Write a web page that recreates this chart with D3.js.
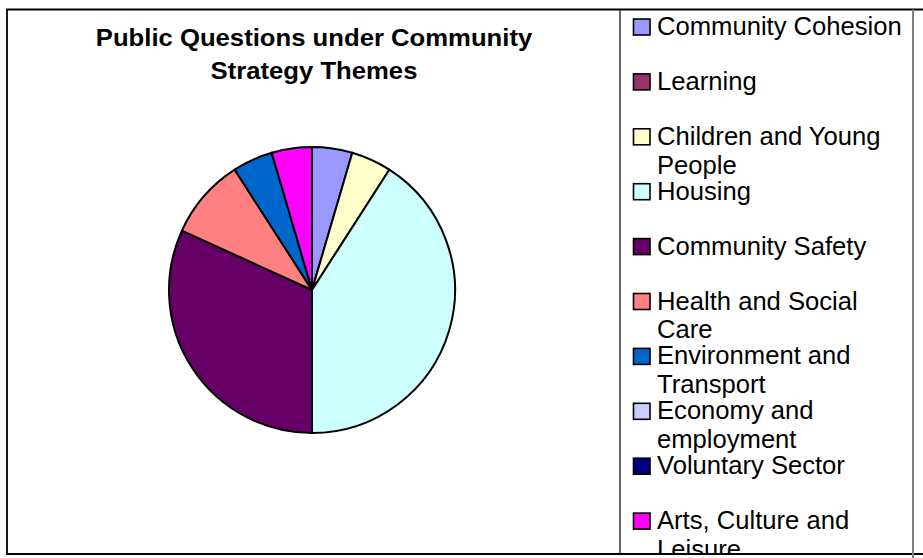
<!DOCTYPE html>
<html>
<head>
<meta charset="utf-8">
<script src="https://cdn.jsdelivr.net/npm/d3@7"></script>
<style>
  body { margin: 0; background: #fff; }
  svg { display: block; font-family: "Liberation Sans", Arial, sans-serif; }
</style>
</head>
<body>
<div id="chart"></div>
<script>
// Chart data
var themes = ["Community Cohesion", "Learning", "Children and Young People", "Housing",
    "Community Safety", "Health and Social Care", "Environment and Transport",
    "Economy and employment", "Voluntary Sector", "Arts, Culture and Leisure"];
var questions = [1, 0, 1, 9, 7, 2, 1, 0, 0, 1];
var themeColors = ["#9999FF", "#993366", "#FFFFCC", "#CCFFFF", "#660066",
    "#FF8080", "#0066CC", "#CCCCFF", "#000080", "#FF00FF"];
var titleLines = ["Public Questions under Community", "Strategy Themes"];

// Dimensions
var chart = {width: 923, height: 558};
var pieCenter = {x: 312, y: 290};
var radius = 143;
var legendBox = {left: 620, right: 913, top: 9.5, bottom: 554};

var color = d3.scaleOrdinal().domain(themes).range(themeColors);

var svg = d3.select("#chart")
    .append("svg")
    .attr("width", chart.width)
    .attr("height", chart.height);

//---------------------------------------Title---------------------------------------
// the original text is a little wider than the font, so stretch it sideways
svg.append("g")
    .attr("transform", "translate(314,0) scale(1.07,1)")
    .selectAll("text")
    .data(titleLines)
    .enter().append("text")
    .attr("x", 0)
    .attr("y", function(d, i) { return 46 + i * 33; })
    .attr("text-anchor", "middle")
    .attr("font-weight", "bold")
    .attr("font-size", 24)
    .attr("fill", "#000")
    .text(function(d) { return d; });

//---------------------------------------Pie---------------------------------------
var pie = d3.pie().sort(null).value(function(d) { return d.value; });
var arc = d3.arc().innerRadius(0).outerRadius(radius);

var slices = pie(themes.map(function(t, i) { return {name: t, value: questions[i]}; }))
    .filter(function(d) { return d.data.value > 0; });

svg.append("g")
    .attr("transform", "translate(" + pieCenter.x + "," + pieCenter.y + ")")
    .selectAll("path")
    .data(slices)
    .enter().append("path")
    .attr("d", arc)
    .attr("fill", function(d) { return color(d.data.name); })
    .attr("stroke", "#000")
    .attr("stroke-width", 2)
    .attr("stroke-linejoin", "round");

//---------------------------------------Legend---------------------------------------
svg.append("clipPath")
    .attr("id", "legendClip")
    .append("rect")
    .attr("x", legendBox.left)
    .attr("y", legendBox.top)
    .attr("width", legendBox.right - legendBox.left)
    .attr("height", legendBox.bottom - legendBox.top);

var legend = svg.append("g")
    .attr("clip-path", "url(#legendClip)")
    .selectAll("g")
    .data(themes)
    .enter().append("g")
    .attr("transform", function(d, i) { return "translate(633.5," + (35 + i * 54.9) + ")"; });

legend.append("rect")
    .attr("x", 0)
    .attr("y", -16)
    .attr("width", 16.5)
    .attr("height", 16)
    .attr("fill", color)
    .attr("stroke", "#000")
    .attr("stroke-width", 1.6);

legend.append("text")
    .attr("transform", "translate(23.5,0) scale(1.025,1)")
    .attr("font-size", 25)
    .attr("fill", "#000")
    .each(function(d) {
        // wrap long labels onto a second line
        var el = d3.select(this);
        var words = d.split(" ");
        var line = [];
        var tspan = el.append("tspan").attr("x", 0).attr("dy", 0);
        words.forEach(function(w) {
            line.push(w);
            tspan.text(line.join(" "));
            if (tspan.node().getComputedTextLength() > 242 && line.length > 1) {
                line.pop();
                tspan.text(line.join(" "));
                line = [w];
                tspan = el.append("tspan").attr("x", 0).attr("dy", 29).text(w);
            }
        });
    });

//---------------------------------------Frames---------------------------------------
// outer chart area
svg.append("path")
    .attr("d", "M" + chart.width + "," + legendBox.top + "H7V" + legendBox.bottom + "H" + chart.width)
    .attr("fill", "none")
    .attr("stroke", "#000")
    .attr("stroke-width", 1.8);

svg.append("line")
    .attr("x1", legendBox.left).attr("x2", legendBox.left)
    .attr("y1", legendBox.top).attr("y2", legendBox.bottom)
    .attr("stroke", "#000")
    .attr("stroke-width", 1.2);

svg.append("line")
    .attr("x1", legendBox.right).attr("x2", legendBox.right)
    .attr("y1", legendBox.top).attr("y2", chart.height)
    .attr("stroke", "#808080")
    .attr("stroke-width", 2);
</script>
</body>
</html>
